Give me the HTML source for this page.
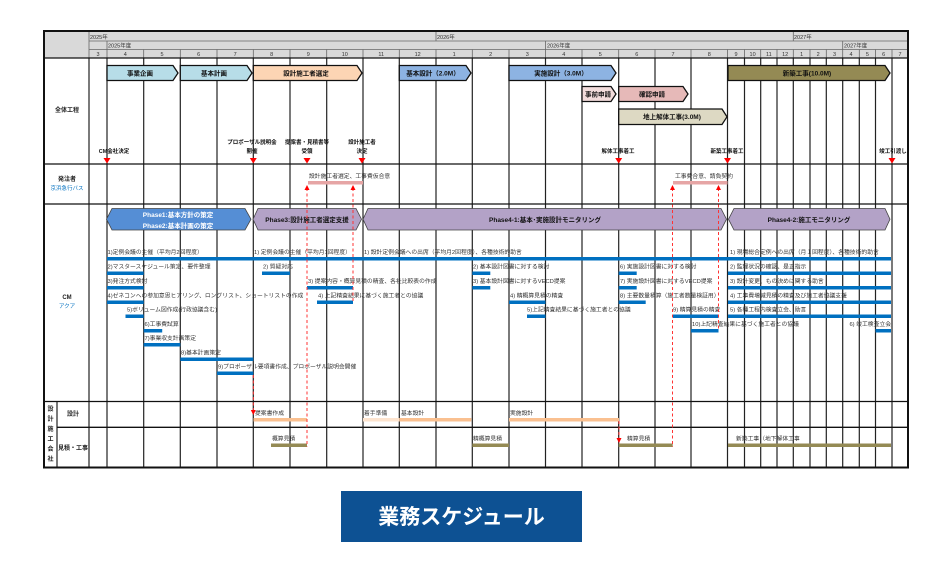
<!DOCTYPE html>
<html><head><meta charset="utf-8"><style>
html,body{margin:0;padding:0;background:#fff;width:951px;height:571px;overflow:hidden}
svg{display:block}
text{font-family:"Liberation Sans","Noto Sans CJK JP",sans-serif}
</style></head><body>
<svg width="951" height="571" viewBox="0 0 951 571" xmlns="http://www.w3.org/2000/svg">
<rect x="44" y="31" width="864" height="27" fill="#d9d9d9"/>
<g stroke="#666" stroke-width="0.8">
<line x1="89" y1="41" x2="908" y2="41"/>
<line x1="89" y1="49.5" x2="908" y2="49.5"/>
<line x1="436" y1="31" x2="436" y2="41"/>
<line x1="793.3" y1="31" x2="793.3" y2="41"/>
<line x1="107" y1="41" x2="107" y2="49.5"/>
<line x1="545.5" y1="41" x2="545.5" y2="49.5"/>
<line x1="842.7" y1="41" x2="842.7" y2="49.5"/>
<line x1="89" y1="31" x2="89" y2="58"/>
</g>
<g stroke="#666" stroke-width="0.8">
<line x1="107" y1="49.5" x2="107" y2="58"/><line x1="143.7" y1="49.5" x2="143.7" y2="58"/><line x1="180.3" y1="49.5" x2="180.3" y2="58"/><line x1="217" y1="49.5" x2="217" y2="58"/><line x1="253.3" y1="49.5" x2="253.3" y2="58"/><line x1="290" y1="49.5" x2="290" y2="58"/><line x1="326.7" y1="49.5" x2="326.7" y2="58"/><line x1="363" y1="49.5" x2="363" y2="58"/><line x1="399.3" y1="49.5" x2="399.3" y2="58"/><line x1="436" y1="49.5" x2="436" y2="58"/><line x1="472.3" y1="49.5" x2="472.3" y2="58"/><line x1="509" y1="49.5" x2="509" y2="58"/><line x1="545.5" y1="49.5" x2="545.5" y2="58"/><line x1="582" y1="49.5" x2="582" y2="58"/><line x1="618.7" y1="49.5" x2="618.7" y2="58"/><line x1="655" y1="49.5" x2="655" y2="58"/><line x1="691" y1="49.5" x2="691" y2="58"/><line x1="727.5" y1="49.5" x2="727.5" y2="58"/><line x1="744.5" y1="49.5" x2="744.5" y2="58"/><line x1="760.7" y1="49.5" x2="760.7" y2="58"/><line x1="777" y1="49.5" x2="777" y2="58"/><line x1="793.3" y1="49.5" x2="793.3" y2="58"/><line x1="810" y1="49.5" x2="810" y2="58"/><line x1="826.3" y1="49.5" x2="826.3" y2="58"/><line x1="842.7" y1="49.5" x2="842.7" y2="58"/><line x1="859.3" y1="49.5" x2="859.3" y2="58"/><line x1="875.5" y1="49.5" x2="875.5" y2="58"/><line x1="892" y1="49.5" x2="892" y2="58"/>
</g>
<g font-size="5.5" fill="#333">
<text x="90" y="39">2025年</text><text x="437" y="39">2026年</text><text x="794" y="39">2027年</text>
<text x="108" y="47.5">2025年度</text><text x="547" y="47.5">2026年度</text><text x="844" y="47.5">2027年度</text>
</g>
<g font-size="5.5" fill="#333" text-anchor="middle">
<text x="98" y="56">3</text><text x="125.3" y="56">4</text><text x="162" y="56">5</text><text x="198.7" y="56">6</text><text x="235.2" y="56">7</text><text x="271.7" y="56">8</text><text x="308.3" y="56">9</text><text x="344.8" y="56">10</text><text x="381.2" y="56">11</text><text x="417.7" y="56">12</text><text x="454.2" y="56">1</text><text x="490.7" y="56">2</text><text x="527.3" y="56">3</text><text x="563.8" y="56">4</text><text x="600.3" y="56">5</text><text x="636.8" y="56">6</text><text x="673" y="56">7</text><text x="709.3" y="56">8</text><text x="736" y="56">9</text><text x="752.6" y="56">10</text><text x="768.8" y="56">11</text><text x="785.2" y="56">12</text><text x="801.7" y="56">1</text><text x="818.2" y="56">2</text><text x="834.5" y="56">3</text><text x="851" y="56">4</text><text x="867.4" y="56">5</text><text x="883.7" y="56">6</text><text x="900" y="56">7</text>
</g>
<g stroke="#222" stroke-width="1.2">
<line x1="89" y1="58" x2="89" y2="467"/><line x1="107" y1="58" x2="107" y2="467"/><line x1="143.7" y1="58" x2="143.7" y2="467"/><line x1="180.3" y1="58" x2="180.3" y2="467"/><line x1="217" y1="58" x2="217" y2="467"/><line x1="253.3" y1="58" x2="253.3" y2="467"/><line x1="290" y1="58" x2="290" y2="467"/><line x1="326.7" y1="58" x2="326.7" y2="467"/><line x1="363" y1="58" x2="363" y2="467"/><line x1="399.3" y1="58" x2="399.3" y2="467"/><line x1="436" y1="58" x2="436" y2="467"/><line x1="472.3" y1="58" x2="472.3" y2="467"/><line x1="509" y1="58" x2="509" y2="467"/><line x1="545.5" y1="58" x2="545.5" y2="467"/><line x1="582" y1="58" x2="582" y2="467"/><line x1="618.7" y1="58" x2="618.7" y2="467"/><line x1="655" y1="58" x2="655" y2="467"/><line x1="691" y1="58" x2="691" y2="467"/><line x1="727.5" y1="58" x2="727.5" y2="467"/><line x1="744.5" y1="58" x2="744.5" y2="467"/><line x1="760.7" y1="58" x2="760.7" y2="467"/><line x1="777" y1="58" x2="777" y2="467"/><line x1="793.3" y1="58" x2="793.3" y2="467"/><line x1="810" y1="58" x2="810" y2="467"/><line x1="826.3" y1="58" x2="826.3" y2="467"/><line x1="842.7" y1="58" x2="842.7" y2="467"/><line x1="859.3" y1="58" x2="859.3" y2="467"/><line x1="875.5" y1="58" x2="875.5" y2="467"/><line x1="892" y1="58" x2="892" y2="467"/>
<line x1="57" y1="401.5" x2="57" y2="467"/>
</g>
<g stroke="#111" stroke-width="1.3">
<line x1="44" y1="58" x2="908" y2="58"/>
<line x1="44" y1="164" x2="908" y2="164"/>
<line x1="44" y1="204" x2="908" y2="204"/>
<line x1="44" y1="401.5" x2="908" y2="401.5"/>
<line x1="57" y1="427.3" x2="908" y2="427.3"/>
</g>
<rect x="44" y="31" width="864" height="436.5" fill="none" stroke="#111" stroke-width="2"/>

<g font-size="6" font-weight="bold" fill="#222" text-anchor="middle">
<text x="67" y="112">全体工程</text>
<text x="67" y="181">発注者</text>
<text x="67" y="299">CM</text>
<text x="73" y="416">設計</text>
<text x="73" y="450">見積・工事</text>
<text x="50.5" y="411">設</text><text x="50.5" y="421">計</text><text x="50.5" y="431">施</text><text x="50.5" y="441">工</text><text x="50.5" y="451">会</text><text x="50.5" y="461">社</text>
</g>
<g font-size="5.5" fill="#0070c0" text-anchor="middle">
<text x="67" y="190">京浜急行バス</text>
<text x="67" y="308">アクア</text>
</g>

<g stroke="#111" stroke-width="1.3">
<path d="M107,65.5 H173 L178,73 L173,80.5 H107 Z" fill="#b7dde8"/>
<path d="M180.3,65.5 H247 L252,73 L247,80.5 H180.3 Z" fill="#b7dde8"/>
<path d="M253.3,65.5 H357 L362,73 L357,80.5 H253.3 Z" fill="#fcd5b4"/>
<path d="M399.3,65.5 H466 L471,73 L466,80.5 H399.3 Z" fill="#8db3e2"/>
<path d="M509,65.5 H611 L616,73 L611,80.5 H509 Z" fill="#8db3e2"/>
<path d="M728,65.5 H885 L890,73 L885,80.5 H728 Z" fill="#948a54"/>
<path d="M582,86.5 H611 L616,94 L611,101.5 H582 Z" fill="#f2dcdb"/>
<path d="M618.7,86.5 H683 L688,94 L683,101.5 H618.7 Z" fill="#e6b9b8"/>
<path d="M618.7,109 H722 L727,116.8 L722,124.5 H618.7 Z" fill="#ddd9c3"/>
</g>
<g font-size="6.5" font-weight="bold" fill="#111" text-anchor="middle">
<text x="140" y="75.5">事業企画</text>
<text x="214" y="75.5">基本計画</text>
<text x="306" y="75.5">設計施工者選定</text>
<text x="433" y="75.5">基本設計（2.0M）</text>
<text x="561" y="75.5">実施設計（3.0M）</text>
<text x="807" y="75.5">新築工事(10.0M)</text>
<text x="598" y="96.5">事前申請</text>
<text x="652" y="96.5">確認申請</text>
<text x="672" y="119">地上解体工事(3.0M)</text>
</g>
<g font-size="5.5" font-weight="bold" fill="#111" text-anchor="middle">
<text x="114" y="153">CM会社決定</text>
<text x="252" y="144">プロポーザル説明会</text><text x="252" y="153">開催</text>
<text x="307" y="144">提案書・見積書等</text><text x="307" y="153">受領</text>
<text x="362" y="144">設計施工者</text><text x="362" y="153">決定</text>
<text x="618" y="153">解体工事着工</text>
<text x="727" y="153">新築工事着工</text>
<text x="893" y="153">竣工引渡し</text>
</g>
<g fill="#ff0000">
<path d="M103.5,158 h7 l-3.5,5.5z"/>
<path d="M249.8,158 h7 l-3.5,5.5z"/>
<path d="M303.5,158 h7 l-3.5,5.5z"/>
<path d="M358.5,158 h7 l-3.5,5.5z"/>
<path d="M615.2,158 h7 l-3.5,5.5z"/>
<path d="M724,158 h7 l-3.5,5.5z"/>
<path d="M888.5,158 h7 l-3.5,5.5z"/>
</g>
<g font-size="5.8" fill="#333">
<text x="309" y="178">設計施工者選定、工事費仮合意</text>
<text x="675" y="178">工事費合意、請負契約</text>
</g>
<rect x="308" y="181" width="55" height="3.5" fill="#e6a5a5"/>
<rect x="673" y="181" width="54.5" height="3.5" fill="#e6a5a5"/>

<g stroke="#444" stroke-width="0.8">
<path d="M112,208.5 H245 L251,219.2 L245,230 H112 L106.5,219.2 Z" fill="#558ed5"/>
<path d="M258,208.5 H356 L361.5,219.2 L356,230 H258 L253,219.2 Z" fill="#b3a2c7"/>
<path d="M368,208.5 H721 L726.5,219.2 L721,230 H368 L363,219.2 Z" fill="#b3a2c7"/>
<path d="M734,208.5 H885 L890,219.2 L885,230 H734 L728.5,219.2 Z" fill="#b3a2c7"/>
</g>
<g font-size="6.5" font-weight="bold" text-anchor="middle">
<text x="178" y="217" fill="#fff">Phase1:基本方針の策定</text>
<text x="178" y="228" fill="#fff">Phase2:基本計画の策定</text>
<text x="307" y="222" fill="#111">Phase3:設計施工者選定支援</text>
<text x="545" y="222" fill="#111">Phase4-1:基本･実施設計モニタリング</text>
<text x="809" y="222" fill="#111">Phase4-2:施工モニタリング</text>
</g>
<g fill="#0070c0">
<rect x="107" y="257" width="784" height="3.5"/>
<rect x="107" y="271.5" width="36.7" height="3.5"/><rect x="262" y="271.5" width="28" height="3.5"/><rect x="472.3" y="271.5" width="18" height="3.5"/><rect x="618.7" y="271.5" width="18" height="3.5"/><rect x="728" y="271.5" width="163" height="3.5"/>
<rect x="107" y="286" width="36.7" height="3.5"/><rect x="307" y="286" width="46" height="3.5"/><rect x="472.3" y="286" width="18" height="3.5"/><rect x="618.7" y="286" width="18" height="3.5"/><rect x="728" y="286" width="163" height="3.5"/>
<rect x="107" y="300.5" width="36.7" height="3.5"/><rect x="317" y="300.5" width="36" height="3.5"/><rect x="509" y="300.5" width="36.5" height="3.5"/><rect x="618.7" y="300.5" width="27" height="3.5"/><rect x="728" y="300.5" width="163" height="3.5"/>
<rect x="125.5" y="314.5" width="18.2" height="3.5"/><rect x="527" y="314.5" width="18.5" height="3.5"/><rect x="673" y="314.5" width="45.5" height="3.5"/><rect x="728" y="314.5" width="163" height="3.5"/>
<rect x="143.7" y="329" width="18.5" height="3.5"/><rect x="691" y="329" width="27.5" height="3.5"/><rect x="875.5" y="329" width="15.5" height="3.5"/>
<rect x="143.7" y="343" width="36.6" height="3.5"/>
<rect x="180.3" y="357.5" width="73" height="3.5"/>
<rect x="217" y="371.5" width="36.3" height="3.5"/>
</g>
<g font-size="5.8" fill="#333">
<text x="107.5" y="254">1)定例会議の主催（平均月2回程度）</text>
<text x="254" y="254">1) 定例会議の主催（平均月1回程度）</text>
<text x="364" y="254">1) 設計定例会議への出席（平均月2回程度）、各種技術的助言</text>
<text x="730" y="254">1) 現場総合定例への出席（月１回程度）、各種技術的助言</text>
<text x="107.5" y="268.5">2)マスタースケジュール策定、要件整理</text>
<text x="263" y="268.5">2) 質疑対応</text>
<text x="473" y="268.5">2) 基本設計図書に対する検討</text>
<text x="620" y="268.5">6) 実施設計図書に対する検討</text>
<text x="730" y="268.5">2) 監理状況の確認、是正指示</text>
<text x="107.5" y="283">3)発注方式検討</text>
<text x="308" y="283">3) 提案内容・概算見積の精査、各社比較表の作成</text>
<text x="473" y="283">3) 基本設計図書に対するVECD提案</text>
<text x="620" y="283">7) 実施設計図書に対するVECD提案</text>
<text x="730" y="283">3) 設計変更、もの決めに関する助言</text>
<text x="107.5" y="297.5">4)ゼネコンへの参加意思ヒアリング、ロングリスト、ショートリストの作成</text>
<text x="318" y="297.5">4) 上記精査結果に基づく施工者との協議</text>
<text x="510" y="297.5">4) 精概算見積の精査</text>
<text x="620" y="297.5">8) 主要数量積算（施工者数量検証用）</text>
<text x="730" y="297.5">4) 工事費増減見積の精査及び施工者協議支援</text>
<text x="127" y="311.5">5)ボリューム図作成(行政協議含む)</text>
<text x="527" y="311.5">5)上記精査結果に基づく施工者との協議</text>
<text x="673" y="311.5">9) 精算見積の精査</text>
<text x="730" y="311.5">5) 各種工程内検査立会、助言</text>
<text x="144.5" y="326">6)工事費試算</text>
<text x="692" y="326">10)上記精査結果に基づく施工者との協議</text>
<text x="891" y="326" text-anchor="end">6) 竣工検査立会</text>
<text x="144.5" y="340">7)事業収支計画策定</text>
<text x="181" y="354.5">8)基本計画策定</text>
<text x="218" y="368.5">9)プロポーザル要項書作成、プロポーザル説明会開催</text>
</g>
<rect x="253.5" y="418" width="53.5" height="3.5" fill="#fac090"/>
<rect x="363" y="418" width="36.3" height="3.5" fill="#fde4cf"/>
<rect x="399.3" y="418" width="72" height="3.5" fill="#fac090"/>
<rect x="509" y="418" width="110" height="3.5" fill="#fac090"/>
<rect x="271" y="443.5" width="36" height="3.5" fill="#948a54"/>
<rect x="472.3" y="443.5" width="36.7" height="3.5" fill="#948a54"/>
<rect x="618.7" y="443.5" width="54" height="3.5" fill="#948a54"/>
<rect x="728" y="443.5" width="163" height="3.5" fill="#948a54"/>
<g font-size="5.8" fill="#333">
<text x="255" y="415">提案書作成</text>
<text x="364" y="415">着手準備</text>
<text x="401" y="415">基本設計</text>
<text x="510" y="415">実施設計</text>
<text x="272" y="440.5">概算見積</text>
<text x="473" y="440.5">精概算見積</text>
<text x="627" y="440.5">精算見積</text>
<text x="736" y="440.5">新築工事（地下解体工事</text>
</g>
<g stroke="#ff3333" stroke-width="1" stroke-dasharray="3,2.5" fill="none">
<line x1="307" y1="188" x2="307" y2="447"/>
<line x1="353" y1="188" x2="353" y2="302"/>
<line x1="253.3" y1="375" x2="253.3" y2="411"/>
<line x1="619" y1="421" x2="619" y2="439"/>
<line x1="672.5" y1="188" x2="672.5" y2="447"/>
<line x1="718.5" y1="188" x2="718.5" y2="330"/>
</g>
<g fill="#ff0000">
<path d="M304.5,190 l2.5,-5 l2.5,5z"/>
<path d="M350.5,190 l2.5,-5 l2.5,5z"/>
<path d="M670,190 l2.5,-5 l2.5,5z"/>
<path d="M716,190 l2.5,-5 l2.5,5z"/>
<path d="M250.8,410 l2.5,5 l2.5,-5z"/>
<path d="M616.5,438 l2.5,5 l2.5,-5z"/>
</g>
<rect x="341" y="491" width="241" height="51" fill="#0d5193"/>
<text x="461.5" y="524" font-size="21" font-weight="bold" fill="#fff" text-anchor="middle">業務スケジュール</text>
</svg>
</body></html>
